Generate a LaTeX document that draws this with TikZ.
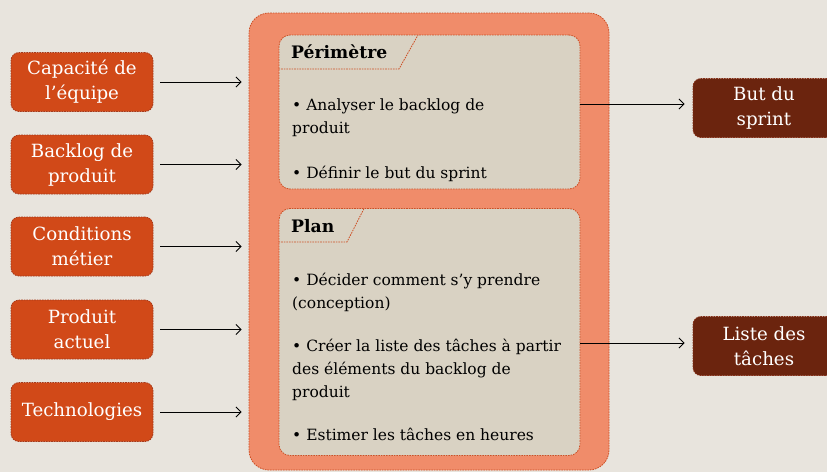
\documentclass[tikz,border=0pt]{standalone}
\usepackage{fontspec}
\setmainfont{DejaVu Serif}
\usetikzlibrary{arrows.meta}
\definecolor{bgcol}{RGB}{232,228,221}
\definecolor{inputcol}{RGB}{209,73,24}
\definecolor{inputedge}{RGB}{165,58,28}
\definecolor{outercol}{RGB}{240,140,106}
\definecolor{outeredge}{RGB}{205,80,38}
\definecolor{innercol}{RGB}{217,210,195}
\definecolor{outputcol}{RGB}{107,36,14}
\tikzset{
  dotline/.style={dash pattern=on 1.6pt off 1pt, line width=0.8pt},
  input/.style={dotline, draw=inputedge, fill=inputcol, rounded corners=8pt,
    text=white, minimum width=142pt, minimum height=59pt, align=center,
    inner sep=0pt, font=\fontsize{18.2}{25}\selectfont},
  output/.style={input, draw=inputedge!80!black, fill=outputcol},
  phase/.style={dotline, draw=outeredge, fill=innercol, rounded corners=11pt,
    minimum width=301pt},
  tabline/.style={dotline, draw=outeredge},
  title/.style={anchor=base west, inner sep=0pt, font=\fontsize{17.2}{23}\selectfont\bfseries},
  items/.style={anchor=north west, inner sep=0pt, align=left,
    font=\fontsize{15.5}{23}\selectfont},
  arr/.style={-{Straight Barb[length=5pt,width=10pt]}, line width=0.9pt}
}
\begin{document}
\begin{tikzpicture}[x=1pt,y=-1pt]
\useasboundingbox (0,0) rectangle (827,472);
\clip (0,0) rectangle (827,472);
\fill[bgcol] (0,0) rectangle (827,472);
% the sprint planning block
\node[dotline, draw=outeredge, fill=outercol, rounded corners=20pt,
  minimum width=360pt, minimum height=457pt] (meeting) at (429,241.5) {};
\node[phase, minimum height=154pt] (scope) at (429.5,112) {};
\node[phase, minimum height=247pt] (plan) at (429.5,332) {};
% tabs of the two phases
\draw[tabline] (scope.west |- 0,69) -- (399,69) -- (418,35);
\draw[tabline] (plan.west |- 0,242) -- (347,242) -- (364,208.5);
\node[title] (scopetitle) at (291,58) {Périmètre};
\node[title] (plantitle) at (291,232) {Plan};
\node[items] (scopeitems) at (292,98.5) {• Analyser le backlog de\\produit\\[22pt]• Définir le but du sprint};
\node[items] (planitems) at (292,273) {• Décider comment s’y prendre\\(conception)\\[20pt]• Créer la liste des tâches à partir\\des éléments du backlog de\\produit\\[20pt]• Estimer les tâches en heures};
% inputs
\node[input] (team) at (82,82) {Capacité de\\l’équipe};
\node[input] (backlog) at (82,164.5) {Backlog de\\produit};
\node[input] (business) at (82,246.5) {Conditions\\métier};
\node[input] (product) at (82,329.5) {Produit\\actuel};
\node[input] (techno) at (82,412) {Technologies};
\foreach \n in {team,backlog,business,product,techno}
  \draw[arr, shorten <=7pt, shorten >=7pt] (\n.east) -- (\n.east -| meeting.west);
% outputs
\node[output] (goal) at (764,108) {But du\\sprint};
\node[output] (tasks) at (764,346) {Liste des\\tâches};
\draw[arr, shorten >=8pt] (scope.east |- 0,104) -- (goal.west |- 0,104);
\draw[arr, shorten >=8pt] (plan.east |- 0,343) -- (tasks.west |- 0,343);
\end{tikzpicture}
\end{document}
